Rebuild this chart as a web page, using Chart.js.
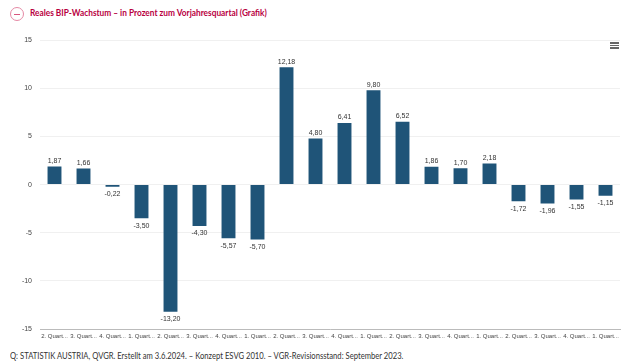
<!DOCTYPE html>
<html lang="de">
<head>
<meta charset="utf-8">
<title>Reales BIP-Wachstum</title>
<script src="https://cdn.jsdelivr.net/npm/chart.js@4"></script>
<style>
  html, body { margin: 0; padding: 0; background: #fff; width: 637px; height: 364px; overflow: hidden; }
  #icon { position: absolute; left: 10px; top: 7px; width: 12px; height: 12px; border: 1px solid #e58aa5; border-radius: 50%; }
  #icon::after { content: ''; position: absolute; left: 3px; top: 5.5px; width: 6px; height: 1px; background: #d9577f; }
  #title { position: absolute; left: 30px; top: 6px; font: 700 9.6px/14px Lato, sans-serif; color: #b8003f; white-space: nowrap; transform: scaleX(0.865); transform-origin: left; }
  #menu { position: absolute; left: 610px; top: 42px; width: 9px; height: 7px; }
  #menu i { display: block; height: 1.6px; background: #666; margin-bottom: 1px; }
  #wrap { position: absolute; left: 0; top: 28px; width: 637px; height: 317px; }
  #foot { position: absolute; left: 10px; top: 350px; font: 400 9px/12px Lato, sans-serif; color: #333; white-space: nowrap; transform: scaleX(0.85); transform-origin: left; }
</style>
</head>
<body>
<div id="icon"></div>
<div id="title">Reales BIP-Wachstum – in Prozent zum Vorjahresquartal (Grafik)</div>
<div id="wrap"><canvas id="chart"></canvas></div>
<div id="menu"><i></i><i></i><i></i></div>
<div id="foot">Q: STATISTIK AUSTRIA, QVGR. Erstellt am 3.6.2024. – Konzept ESVG 2010. – VGR-Revisionsstand: September 2023.</div>
<script>
// Quartale (in der Achse abgekürzt)
const categories = [
  '2. Quartal 2019', '3. Quartal 2019', '4. Quartal 2019',
  '1. Quartal 2020', '2. Quartal 2020', '3. Quartal 2020', '4. Quartal 2020',
  '1. Quartal 2021', '2. Quartal 2021', '3. Quartal 2021', '4. Quartal 2021',
  '1. Quartal 2022', '2. Quartal 2022', '3. Quartal 2022', '4. Quartal 2022',
  '1. Quartal 2023', '2. Quartal 2023', '3. Quartal 2023', '4. Quartal 2023',
  '1. Quartal 2024'
];
const growth = [1.87, 1.66, -0.22, -3.50, -13.20, -4.30, -5.57, -5.70, 12.18, 4.80,
  6.41, 9.80, 6.52, 1.86, 1.70, 2.18, -1.72, -1.96, -1.55, -1.15];

// Werte über/unter den Balken schreiben
const valueLabels = {
  id: 'valueLabels',
  afterDatasetsDraw(chart) {
    const ctx = chart.ctx;
    const bars = chart.getDatasetMeta(0).data;
    ctx.save();
    ctx.font = '7px "Liberation Sans", Arial, sans-serif';
    ctx.fillStyle = '#333';
    ctx.textAlign = 'center';
    bars.forEach((bar, i) => {
      const v = growth[i];
      const text = v.toFixed(2).replace('.', ',');
      if (v >= 0) {
        ctx.textBaseline = 'bottom';
        ctx.fillText(text, bar.x, bar.y - 2);
      } else {
        ctx.textBaseline = 'top';
        ctx.fillText(text, bar.x, bar.y + 4);
      }
    });
    ctx.restore();
  }
};

const ctx = document.getElementById('chart').getContext('2d');
new Chart(ctx, {
  type: 'bar',
  data: {
    labels: categories,
    datasets: [{
      data: growth,
      backgroundColor: '#1f5478',
      categoryPercentage: 1,
      barPercentage: 0.48
    }]
  },
  options: {
    responsive: true,
    maintainAspectRatio: false,
    animation: false,
    layout: { padding: { top: 2, right: 17, bottom: 0, left: 0 } },
    plugins: { legend: { display: false }, tooltip: { enabled: false } },
    scales: {
      x: {
        grid: { display: false, drawTicks: false },
        border: { color: '#bbb', width: 1 },
        afterFit(scale) { scale.height = 16; },
        ticks: {
          maxRotation: 0,
          autoSkip: false,
          padding: 4,
          color: '#444',
          font: { family: '"Liberation Sans", Arial, sans-serif', size: 6 },
          callback(value) { return this.getLabelForValue(value).slice(0, 8) + '...'; }
        }
      },
      y: {
        min: -15,
        max: 15,
        afterFit(scale) { scale.width = 40; },
        grid: { color: '#f0f0f0', drawTicks: false },
        border: { display: false },
        ticks: {
          stepSize: 5,
          padding: 8,
          color: '#444',
          font: { family: '"Liberation Sans", Arial, sans-serif', size: 7 }
        }
      }
    }
  },
  plugins: [valueLabels]
});
</script>
</body>
</html>
